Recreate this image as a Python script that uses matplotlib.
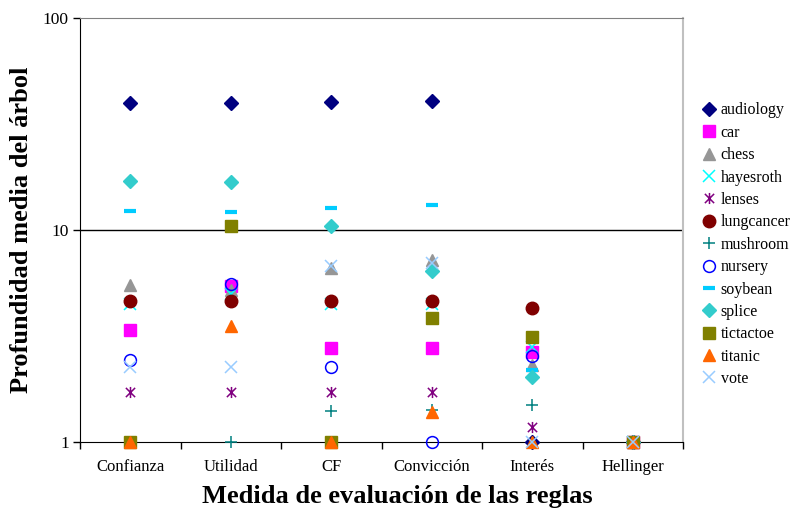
import numpy as np
import matplotlib
matplotlib.use("Agg")
import matplotlib.pyplot as plt
from matplotlib.path import Path

plt.rcParams["font.family"] = ["Liberation Serif", "DejaVu Serif"]

# Data
medidas = ["Confianza", "Utilidad", "CF", "Convicción", "Interés", "Hellinger"]

audiology = [39.7, 39.7, 40.0, 40.4, 1.0, 1.0]
car = [3.38, 5.45, 2.78, 2.78, 2.66, 1.0]
chess = [5.5, 5.2, 6.6, 7.2, 2.3, 1.0]
hayesroth = [4.5, 5.0, 4.5, 4.5, 2.8, 1.0]
lenses = [1.72, 1.72, 1.72, 1.72, 1.18, 1.0]
lungcancer = [4.6, 4.6, 4.6, 4.6, 4.27, 1.0]
mushroom = [1.0, 1.0, 1.40, 1.41, 1.50, 1.0]
nursery = [2.44, 5.56, 2.27, 1.0, 2.55, 1.0]
soybean = [12.3, 12.2, 12.7, 13.1, 2.19, 1.0]
splice = [17.0, 16.8, 10.5, 6.4, 2.03, 1.0]
tictactoe = [1.0, 10.4, 1.0, 3.86, 3.14, 1.0]
titanic = [1.0, 3.54, 1.0, 1.38, 1.0, 1.0]
vote = [2.26, 2.26, 6.8, 7.0, 1.0, 1.0]

# Excel-like "star" marker: an x with a vertical bar
star = Path(
    [(-1, -1), (1, 1), (-1, 1), (1, -1), (0, -1.2), (0, 1.2)],
    [Path.MOVETO, Path.LINETO, Path.MOVETO, Path.LINETO, Path.MOVETO, Path.LINETO],
)

series = [
    ("audiology", audiology, dict(marker="D", color="#000080", ms=7.5)),
    ("car", car, dict(marker="s", color="#FF00FF", ms=8.5)),
    ("chess", chess, dict(marker="^", color="#969696", ms=9)),
    ("hayesroth", hayesroth, dict(marker="x", color="#00FFFF", ms=8, mew=1.1)),
    ("lenses", lenses, dict(marker=star, color="#800080", ms=8, mew=1.1)),
    ("lungcancer", lungcancer, dict(marker="o", color="#800000", ms=9)),
    ("mushroom", mushroom, dict(marker="+", color="#008080", ms=9, mew=1.1)),
    ("nursery", nursery, dict(marker="o", color="#0000FF", ms=8.5, mfc="none", mew=1.1)),
    ("soybean", soybean, dict(marker="_", color="#00CCFF", ms=9, mew=3)),
    ("splice", splice, dict(marker="D", color="#33CCCC", ms=7.5)),
    ("tictactoe", tictactoe, dict(marker="s", color="#808000", ms=8.5)),
    ("titanic", titanic, dict(marker="^", color="#FF6600", ms=9)),
    ("vote", vote, dict(marker="x", color="#99CCFF", ms=8, mew=1.1)),
]

fig = plt.figure(figsize=(7.91, 5.16), dpi=100)
ax = fig.add_axes([80 / 791, 74 / 516, 603 / 791, 424 / 516])

x = np.arange(len(medidas))
for i, (name, vals, style) in enumerate(series):
    ax.plot(x, vals, linestyle="none", label=name, zorder=3 + i, clip_on=False, **style)

ax.set_yscale("log")
ax.set_ylim(1, 100)
ax.set_xlim(-0.5, len(medidas) - 0.5)

# gridline at 10
ax.axhline(10, color="black", lw=1, zorder=1)

ax.set_yticks([1, 10, 100])
ax.set_yticklabels(["1", "10", "100"])
ax.yaxis.set_minor_locator(matplotlib.ticker.NullLocator())
ax.tick_params(axis="y", direction="out", length=5, width=1, labelsize=12.5, pad=3)

ax.set_xticks(np.arange(-0.5, len(medidas), 1.0))
ax.set_xticklabels([])
ax.set_xticks(x, minor=True)
ax.set_xticklabels(medidas, minor=True)
ax.tick_params(axis="x", which="major", direction="out", length=5, width=1)
ax.tick_params(axis="x", which="minor", length=0, labelsize=12, pad=12)

ax.spines["top"].set_color("#808080")
ax.spines["right"].set_color("#c0c0c0")
ax.spines["right"].set_linewidth(1.5)

ax.set_xlabel("Medida de evaluación de las reglas", fontsize=19, fontweight="bold")
ax.set_ylabel("Profundidad media del árbol", fontsize=19, fontweight="bold")
ax.xaxis.set_label_coords(0.527, -0.101)
ax.yaxis.set_label_coords(-0.078, 0.5)

fig.legend(
    loc="upper left",
    bbox_to_anchor=(696 / 791, 1 - 96 / 516),
    frameon=False,
    fontsize=11.5,
    handlelength=0.8,
    handletextpad=0.35,
    labelspacing=0.4,
    borderaxespad=0,
    numpoints=1,
)

fig.savefig("out.png", dpi=100)
